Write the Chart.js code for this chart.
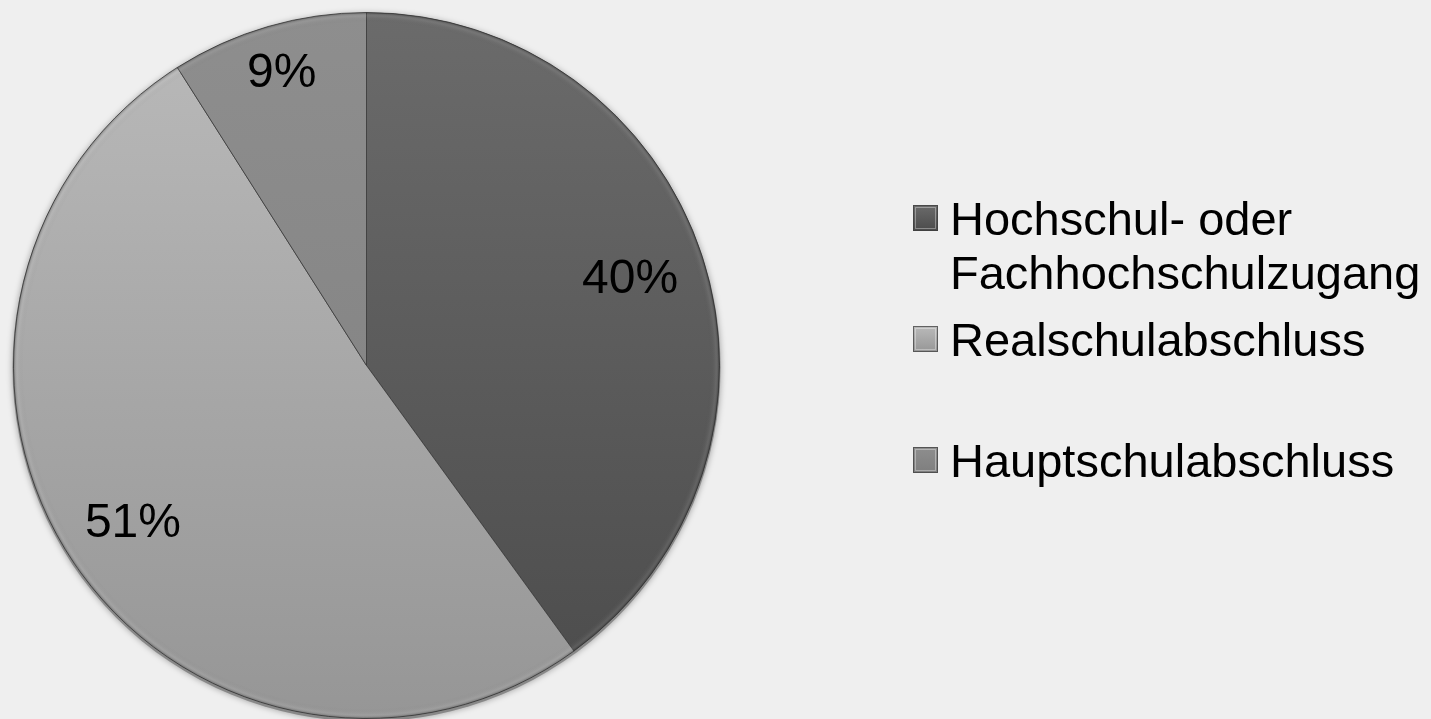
<!DOCTYPE html>
<html>
<head>
<meta charset="utf-8">
<script src="https://cdn.jsdelivr.net/npm/chart.js@4.4.1/dist/chart.umd.min.js"></script>
<style>
    html, body { margin: 0; padding: 0; background: #efefef; }
    #wrap { position: relative; width: 1431px; height: 719px; }
</style>
</head>
<body>
<div id="wrap"><canvas id="pieChart" width="1431" height="719"></canvas></div>
<script>
// Chart data
var categories = ['Hochschul- oder Fachhochschulzugang', 'Realschulabschluss', 'Hauptschulabschluss'];
var shares = [40, 51, 9];

// Slice colours (top / bottom of gradient)
var sliceTop = ['#6b6b6b', '#bababa', '#8e8e8e'];
var sliceBottom = ['#4b4b4b', '#969696', '#7e7e7e'];
var labelRadius = [0.785, 0.80, 0.86];

var FONT = '"Liberation Sans", Arial, Helvetica, sans-serif';

function sliceGradient(context) {
    var chart = context.chart;
    var area = chart.chartArea;
    var i = context.dataIndex;
    if (!area) return sliceTop[i];
    var g = chart.ctx.createLinearGradient(0, area.top, 0, area.bottom);
    g.addColorStop(0, sliceTop[i]);
    g.addColorStop(1, sliceBottom[i]);
    return g;
}

// Soft shadow + bevel ring around the pie
var bevelPlugin = {
    id: 'bevel',
    beforeDatasetsDraw: function(chart) {
        var arc = chart.getDatasetMeta(0).data[0];
        if (!arc) return;
        var ctx = chart.ctx;
        ctx.save();
        ctx.beginPath();
        ctx.arc(arc.x, arc.y + 2, arc.outerRadius + 1, 0, Math.PI * 2);
        ctx.shadowColor = 'rgba(0,0,0,0.35)';
        ctx.shadowBlur = 6;
        ctx.fillStyle = '#888';
        ctx.fill();
        ctx.restore();
    },
    afterDatasetsDraw: function(chart) {
        var arc = chart.getDatasetMeta(0).data[0];
        if (!arc) return;
        var ctx = chart.ctx;
        var r = arc.outerRadius;
        ctx.save();
        var g = ctx.createRadialGradient(arc.x, arc.y, r - 10, arc.x, arc.y, r);
        g.addColorStop(0, 'rgba(0,0,0,0)');
        g.addColorStop(0.6, 'rgba(255,255,255,0.06)');
        g.addColorStop(1, 'rgba(0,0,0,0.3)');
        ctx.beginPath();
        ctx.arc(arc.x, arc.y, r, 0, Math.PI * 2);
        ctx.arc(arc.x, arc.y, r - 10, 0, Math.PI * 2, true);
        ctx.fillStyle = g;
        ctx.fill();
        ctx.restore();
    }
};

// Percent labels inside slices
var valueLabels = {
    id: 'valueLabels',
    afterDatasetsDraw: function(chart) {
        var ctx = chart.ctx;
        var meta = chart.getDatasetMeta(0);
        var total = 0;
        for (var i = 0; i < shares.length; i++) total += shares[i];
        ctx.save();
        ctx.font = '48px ' + FONT;
        ctx.fillStyle = '#000';
        ctx.textAlign = 'center';
        ctx.textBaseline = 'middle';
        for (var j = 0; j < meta.data.length; j++) {
            var a = meta.data[j];
            var mid = (a.startAngle + a.endAngle) / 2;
            var rr = a.outerRadius * labelRadius[j];
            var x = a.x + Math.cos(mid) * rr;
            var y = a.y + Math.sin(mid) * rr;
            ctx.fillText(Math.round(shares[j] / total * 100) + '%', x, y);
        }
        ctx.restore();
    }
};

// Legend on the right
var sideLegend = {
    id: 'sideLegend',
    afterDraw: function(chart) {
        var ctx = chart.ctx;
        var left = 913, textX = 950, maxW = 475;
        ctx.save();
        ctx.font = '47px ' + FONT;
        ctx.textBaseline = 'alphabetic';
        ctx.textAlign = 'left';
        for (var i = 0; i < categories.length; i++) {
            var base = 235 + i * 121;
            // wrap words
            var words = categories[i].split(' ');
            var lines = [];
            var cur = '';
            for (var w = 0; w < words.length; w++) {
                var test = cur ? cur + ' ' + words[w] : words[w];
                if (ctx.measureText(test).width > maxW && cur) {
                    lines.push(cur);
                    cur = words[w];
                } else {
                    cur = test;
                }
            }
            lines.push(cur);

            // marker
            var sy = base - 30;
            var g = ctx.createLinearGradient(0, sy, 0, sy + 26);
            g.addColorStop(0, sliceTop[i]);
            g.addColorStop(1, sliceBottom[i]);
            ctx.fillStyle = g;
            ctx.fillRect(left, sy, 25, 26);
            ctx.strokeStyle = 'rgba(60,60,60,0.7)';
            ctx.lineWidth = 1;
            ctx.strokeRect(left + 0.5, sy + 0.5, 24, 25);
            ctx.strokeStyle = 'rgba(255,255,255,0.35)';
            ctx.strokeRect(left + 2.5, sy + 2.5, 20, 21);

            ctx.fillStyle = '#000';
            for (var k = 0; k < lines.length; k++) {
                ctx.fillText(lines[k], textX, base + k * 54);
            }
        }
        ctx.restore();
    }
};

document.addEventListener('DOMContentLoaded', function() {
    var ctx = document.getElementById('pieChart').getContext('2d');
    new Chart(ctx, {
        type: 'pie',
        data: {
            labels: categories,
            datasets: [{
                data: shares,
                backgroundColor: sliceGradient,
                borderColor: 'rgba(55,55,55,0.75)',
                borderWidth: 1
            }]
        },
        options: {
            responsive: false,
            animation: false,
            layout: { padding: { left: 13, top: 12, right: 711, bottom: 0 } },
            plugins: {
                legend: { display: false },
                tooltip: { enabled: false }
            }
        },
        plugins: [bevelPlugin, valueLabels, sideLegend]
    });
});
</script>
</body>
</html>
